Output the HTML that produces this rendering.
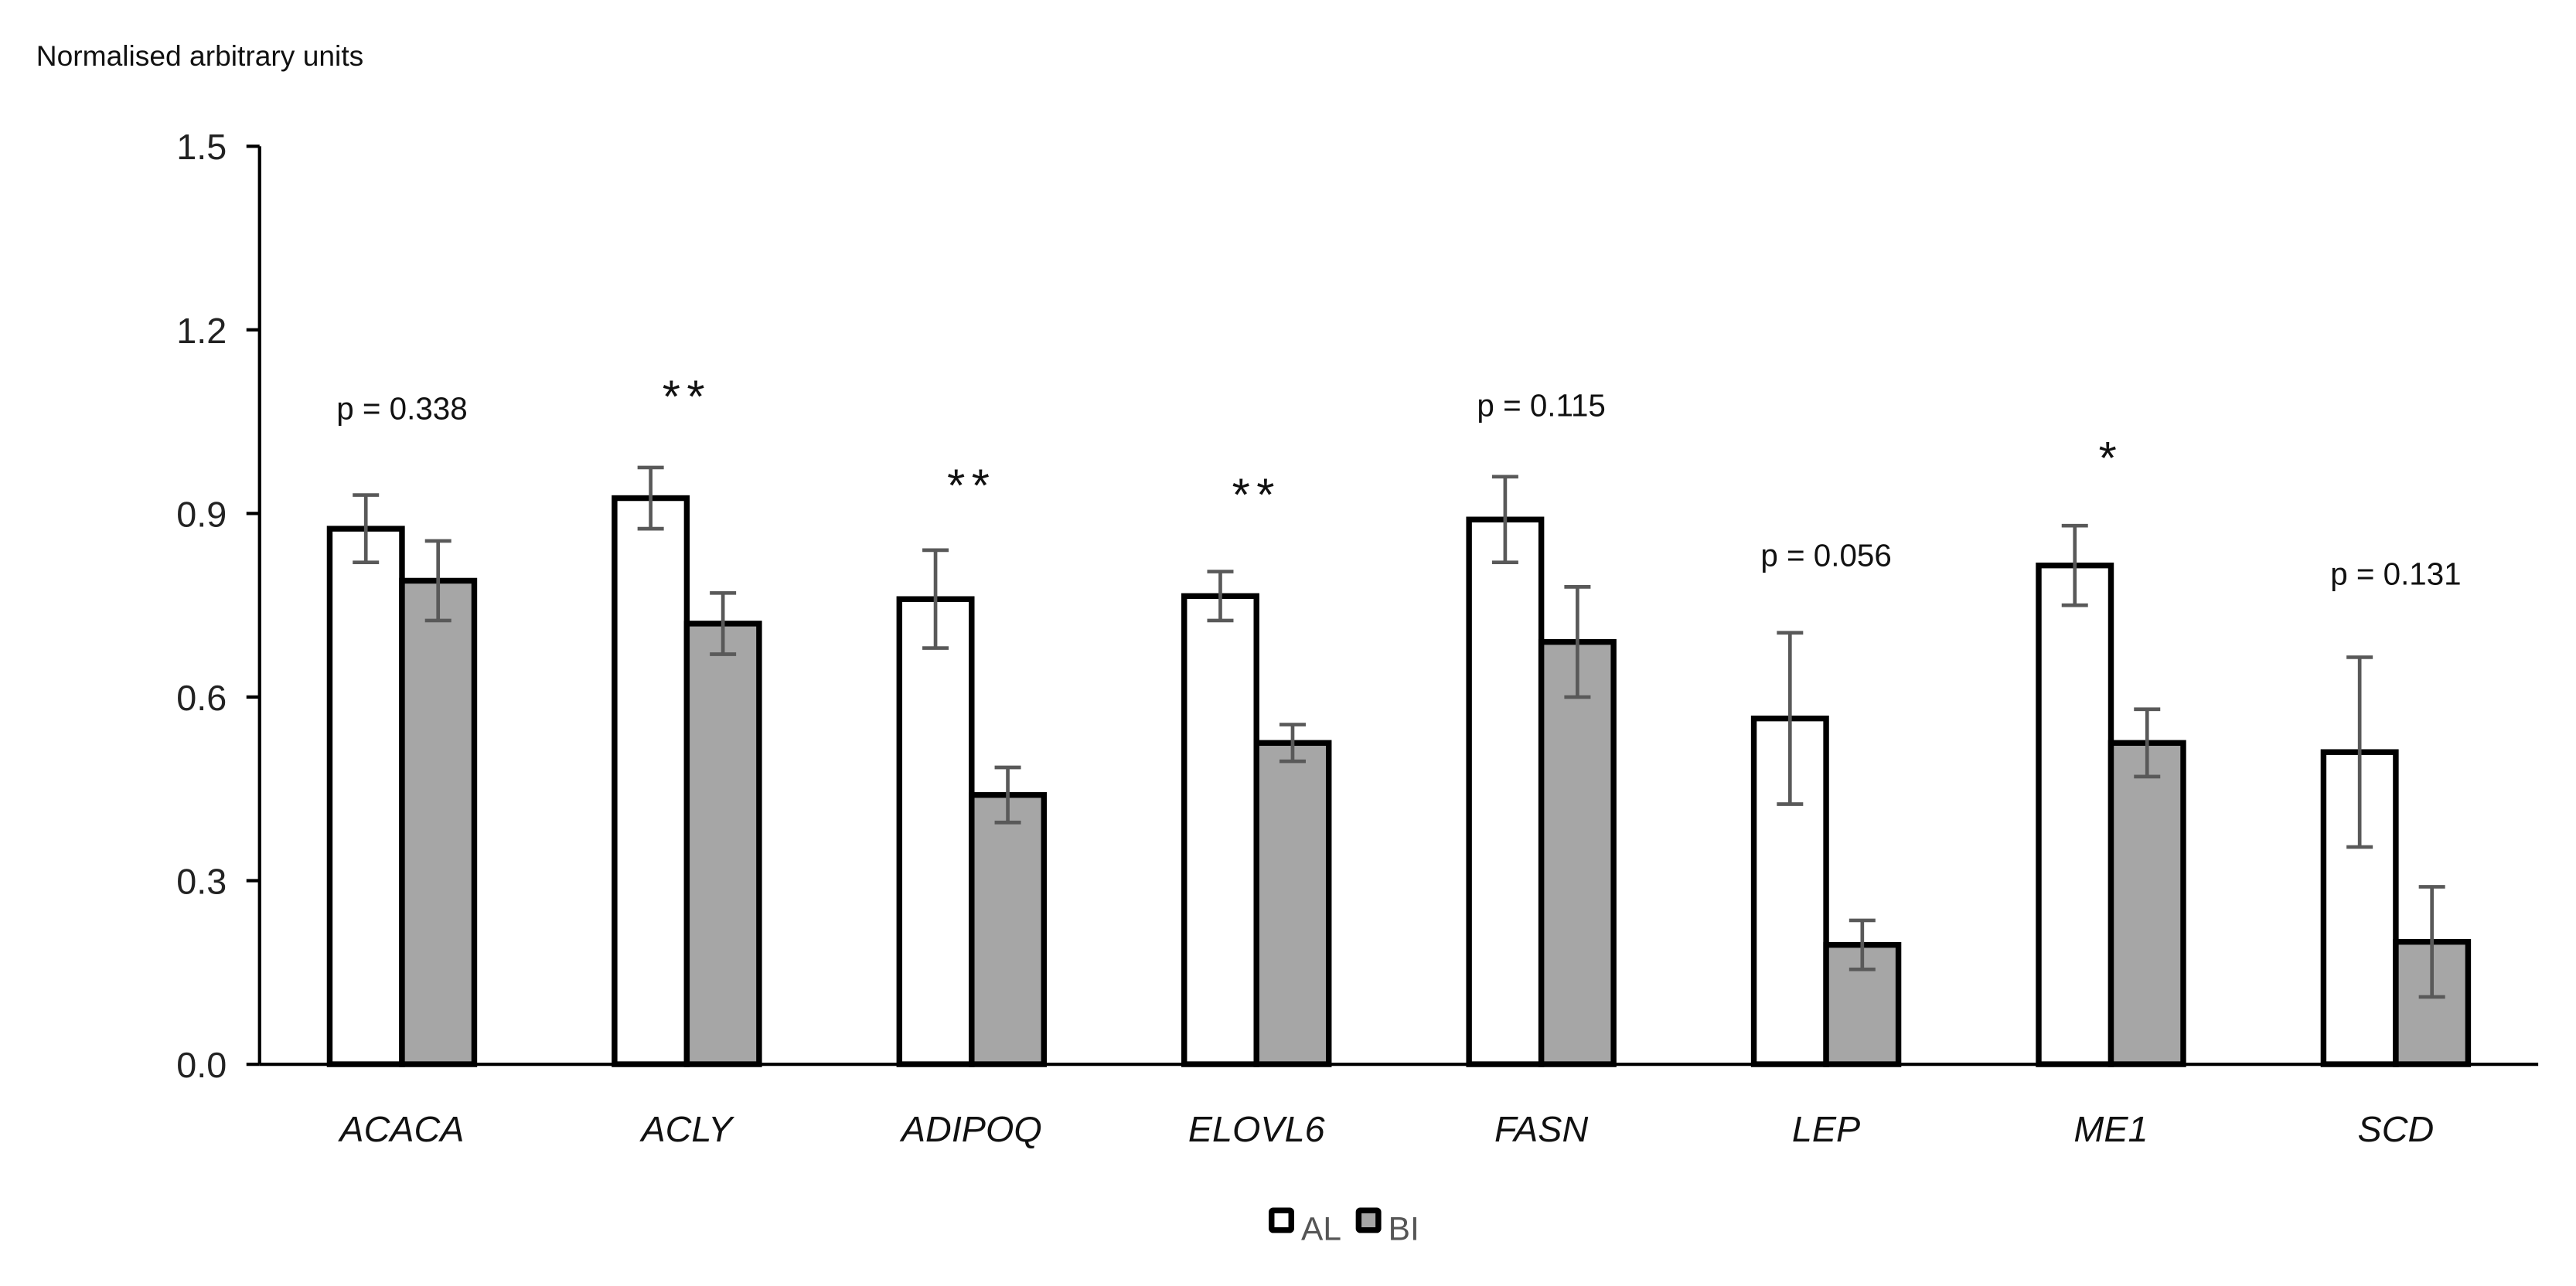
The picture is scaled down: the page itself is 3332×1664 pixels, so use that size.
<!DOCTYPE html>
<html><head><meta charset="utf-8"><style>
html,body{margin:0;padding:0;background:#fff;}
svg{display:block;font-family:"Liberation Sans",sans-serif;}
</style></head><body>
<svg id="chart" width="3332" height="1664" viewBox="0 0 1568 783" xmlns="http://www.w3.org/2000/svg">
<text x="22" y="40" font-size="17.5" fill="#111">Normalised arbitrary units</text>
<g id="axes"></g>
<g id="bars"></g>
<g id="legend">
  <rect x="774" y="737" width="12" height="12" fill="#fff" stroke="#000" stroke-width="3.5" rx="1"/>
  <text x="792" y="755" font-size="20" fill="#555">AL</text>
  <rect x="827" y="737" width="12" height="12" fill="#a6a6a6" stroke="#000" stroke-width="3.5" rx="1"/>
  <text x="845" y="755" font-size="20" fill="#555">BI</text>
</g>
</svg>
<script>
const categories = ["ACACA","ACLY","ADIPOQ","ELOVL6","FASN","LEP","ME1","SCD"];
const alValues = [0.875,0.925,0.76,0.765,0.89,0.565,0.815,0.51];
const alErrors = [0.055,0.05,0.08,0.04,0.07,0.14,0.065,0.155];
const biValues = [0.79,0.72,0.44,0.525,0.69,0.195,0.525,0.2];
const biErrors = [0.065,0.05,0.045,0.03,0.09,0.04,0.055,0.09];
const annotations = ["p = 0.338","**","**","**","p = 0.115","p = 0.056","*","p = 0.131"];
const annotationLevels = [1.07,1.1,0.955,0.94,1.075,0.83,1.0,0.8];
const yTicks = [0,0.3,0.6,0.9,1.2,1.5];

const NS="http://www.w3.org/2000/svg";
const X0=158, X1=1545, Y0=648, Y1=89, YMAX=1.5;
const y=v=>Y0-(v/YMAX)*(Y0-Y1);
const band=(X1-X0)/categories.length;
const cx=i=>X0+band*(i+0.5);
const BW=44;
function mk(tag,attrs,parent){const e=document.createElementNS(NS,tag);for(const k in attrs)e.setAttribute(k,attrs[k]);parent.appendChild(e);return e;}
const axes=document.getElementById('axes'), bars=document.getElementById('bars');

let yl=mk('line',{x1:X0,y1:Y1,x2:X0,y2:Y0,stroke:'#000','stroke-width':2},axes);


yTicks.forEach(t=>{
  let tk=mk('line',{x1:X0-8,y1:y(t),x2:X0,y2:y(t),stroke:'#000','stroke-width':2},axes);
  
  
  let tl=mk('text',{x:X0-20,y:y(t)+8,'text-anchor':'end','font-size':22,fill:'#222'},axes);
  tl.textContent=t.toFixed(1);
  
  
});

function errBar(x,v,e){
  let g=mk('g',{stroke:'#595959','stroke-width':2.2},bars);
  
  
  mk('line',{x1:x,y1:y(v+e),x2:x,y2:y(v-e)},g);
  mk('line',{x1:x-8,y1:y(v+e),x2:x+8,y2:y(v+e)},g);
  mk('line',{x1:x-8,y1:y(v-e),x2:x+8,y2:y(v-e)},g);
}
categories.forEach((c,i)=>{
  const c0=cx(i);
  let a=mk('rect',{x:c0-BW,y:y(alValues[i]),width:BW,height:Y0-y(alValues[i]),fill:'#fff',stroke:'#000','stroke-width':3.5},bars);
  
  
  let b=mk('rect',{x:c0,y:y(biValues[i]),width:BW,height:Y0-y(biValues[i]),fill:'#a6a6a6',stroke:'#000','stroke-width':3.5},bars);
  
  
  errBar(c0-BW/2,alValues[i],alErrors[i]);
  errBar(c0+BW/2,biValues[i],biErrors[i]);
  let l=mk('text',{x:c0,y:695,'text-anchor':'middle','font-size':22,'font-style':'italic',fill:'#111'},axes);
  l.textContent=c;
  
  
  const star=annotations[i].indexOf('*')===0;
  let an=mk('text',{x:c0,y:y(annotationLevels[i])+(star?13:6),'text-anchor':'middle','font-size':star?28:19,'letter-spacing':star?4:0,fill:'#111'},axes);
  an.textContent=annotations[i];
  
  
});
let xl=mk('line',{x1:X0,y1:Y0,x2:X1,y2:Y0,stroke:'#000','stroke-width':2},axes);


</script>
</body></html>
